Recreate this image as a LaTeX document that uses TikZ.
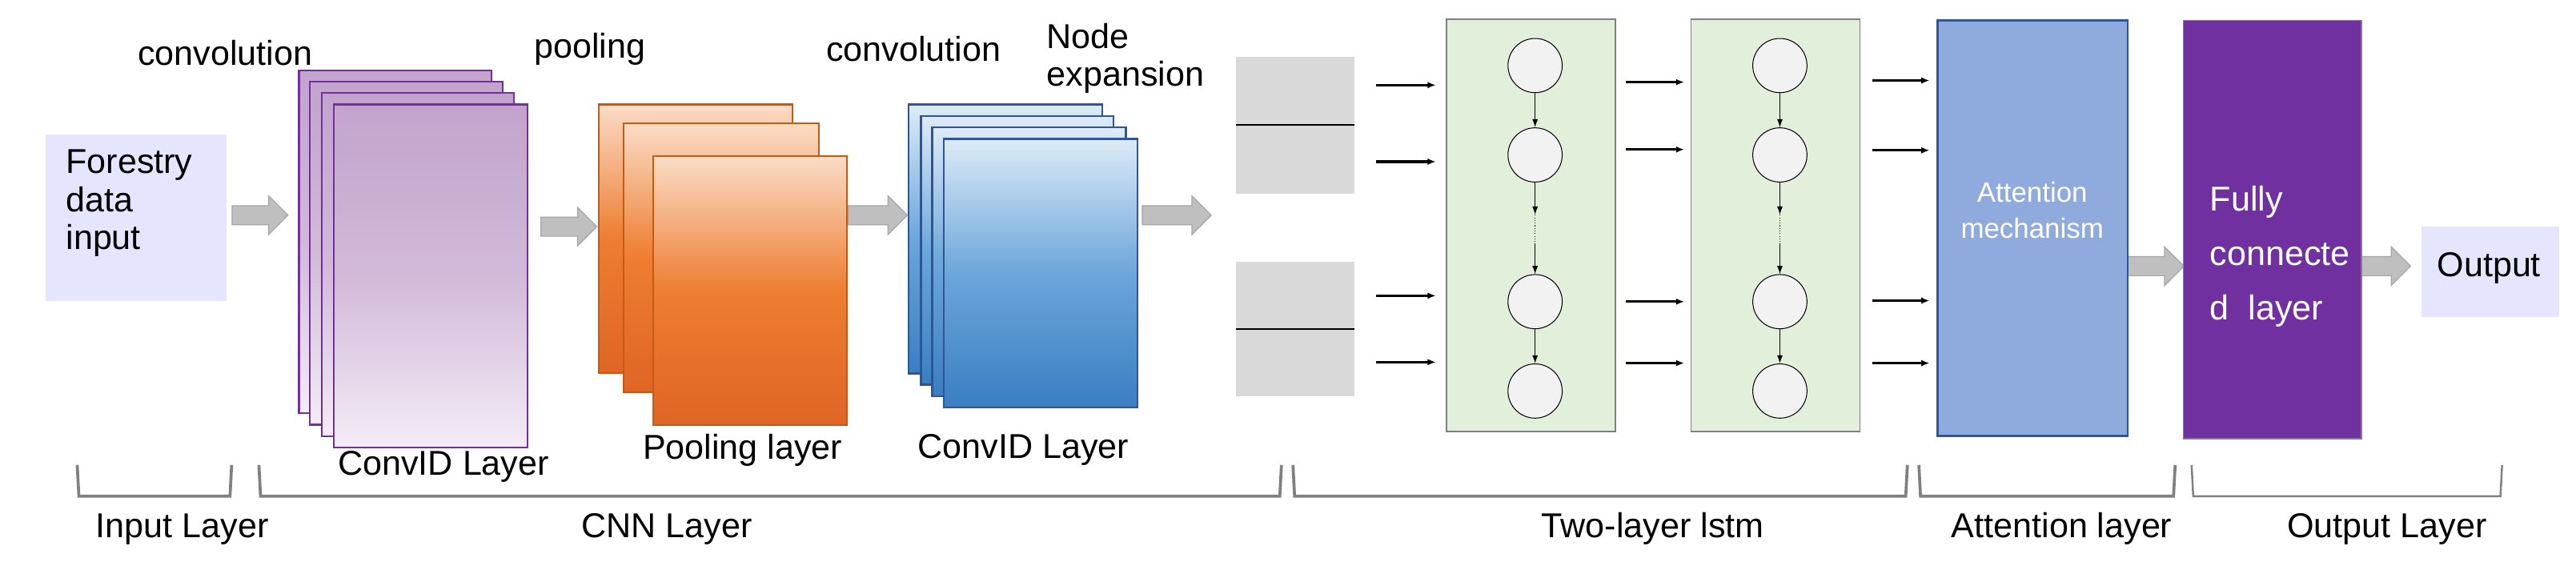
\documentclass[tikz,border=0pt]{standalone}
\usepackage{fontspec}
\setmainfont{Liberation Sans}
\usetikzlibrary{shapes.arrows,arrows.meta}
\definecolor{pu}{HTML}{7030A0}
\definecolor{puL}{HTML}{C3A3CC}
\definecolor{puW}{HTML}{F4ECF6}
\definecolor{orB}{HTML}{C55A11}
\definecolor{orT}{HTML}{FADCC6}
\definecolor{orM}{HTML}{EE7D31}
\definecolor{orD}{HTML}{DF6525}
\definecolor{blB}{HTML}{2F5597}
\definecolor{blT}{HTML}{DDEBF7}
\definecolor{blM}{HTML}{6CA6DA}
\definecolor{blD}{HTML}{3A7EC2}
\begin{document}
\begin{tikzpicture}[x=1pt,y=-1pt,
  txt/.style={font=\fontsize{21}{23}\selectfont,inner sep=0},
  blk/.style={single arrow,fill=gray!50,draw=gray!70,line width=0.6pt,minimum width=23pt,single arrow head extend=6pt,inner sep=0,text height=11pt,text depth=0pt,text width=0pt,anchor=west},
  purp/.style={draw=pu,line width=1pt,top color=puL,bottom color=puW,middle color=puL!70!puW},
  oran/.style={draw=orB,line width=1pt,top color=orT,bottom color=orD,middle color=orM},
  blue/.style={draw=blB,line width=1.2pt,top color=blT,bottom color=blD,middle color=blM},
  cell/.style={circle,draw=black,fill=black!5,line width=0.5pt,minimum size=33pt,inner sep=0},
  sa/.style={-{Latex[length=5pt,width=4pt]},line width=1.6pt},
  ca/.style={-{Latex[length=5pt,width=3.5pt]},line width=0.7pt},
  brk/.style={draw=gray,line width=1.8pt}]
\useasboundingbox (0,0) rectangle (1568,341.6);
% input
\node[fill=blue!10!white,minimum width=110pt,minimum height=101pt,inner sep=0] (in) at (83,132.5) {};
\node[txt,align=left,anchor=north west] (intx) at (40,91) {Forestry\\ data\\ input};
% conv stack 1
\draw[purp] (182,42.7) rectangle (299,251.6);
\draw[purp] (188.5,49.7) rectangle (306,258.5);
\draw[purp] (196,56.6) rectangle (313,265.5);
\draw[purp] (203,63.6) rectangle (321,272.5);
% pooling stack
\draw[oran] (364.5,63.6) rectangle (482.4,227.2);
\draw[oran] (379.4,75.1) rectangle (498.3,238.7);
\draw[oran] (397.8,95.2) rectangle (515.7,258.8);
% conv stack 2
\draw[blue] (553,63.6) rectangle (670.9,227.2);
\draw[blue] (560.5,70.6) rectangle (677.8,234.1);
\draw[blue] (567.4,77.5) rectangle (685.3,241.1);
\draw[blue] (574.4,84.5) rectangle (692.3,248.1);
% block arrows
\node[blk,minimum height=34pt] (b1) at (141,131) {};
\node[blk,minimum height=34pt] (b2) at (329,138) {};
\node[blk,minimum height=36pt] (b3) at (516,131) {};
\node[blk,minimum height=42pt] (b4) at (695,131) {};
\node[blk,minimum height=34pt] (b5) at (1295,162) {};
\node[blk,minimum height=30pt] (b6) at (1437,162) {};
% top labels
\node[txt] (l1) at (137,32) {convolution};
\node[txt] (l2) at (359,30) {pooling};
\node[txt] (l3) at (556,30) {convolution};
\node[txt,align=left,anchor=north west] (l4) at (637,14) {Node\\expansion};
\node[txt] (l5) at (270,284) {ConvID Layer};
\node[txt] (l6) at (452,274) {Pooling layer};
\node[txt] (l7) at (623,274) {ConvID Layer};
% gray expansion boxes
\node[fill=black!15,minimum width=72pt,minimum height=83pt,inner sep=0] (g1) at (788.4,76.2) {};
\node[fill=black!15,minimum width=72pt,minimum height=82pt,inner sep=0] (g2) at (788.4,200.1) {};
\draw[line width=1pt] (g1.west) -- (g1.east);
\draw[line width=1pt] (g2.west) -- (g2.east);
% lstm boxes
\node[fill=green!10!white!90!gray,fill=green!5!white,draw=gray,line width=0.8pt,minimum width=102pt,minimum height=250pt,inner sep=0] (L1) at (932,137.2) {};
\node[fill=green!5!white,draw=gray,line width=0.8pt,minimum width=102pt,minimum height=250pt,inner sep=0] (L2) at (1080.7,137.2) {};
\fill[green!5!white] (L1.north west) rectangle (L1.south east);
\fill[green!5!white] (L2.north west) rectangle (L2.south east);
\definecolor{lg}{HTML}{E2EFDA}
\draw[fill=lg,draw=gray,line width=0.8pt] (L1.north west) rectangle (L1.south east);
\draw[fill=lg,draw=gray,line width=0.8pt] (L2.north west) rectangle (L2.south east);
\foreach \c/\x in {a/934.4,b/1083.4}{
  \node[cell] (\c1) at (\x,39.9) {};
  \node[cell] (\c2) at (\x,94.3) {};
  \node[cell] (\c3) at (\x,183.6) {};
  \node[cell] (\c4) at (\x,238) {};
  \coordinate (\c m1) at (\x,130.7);
  \coordinate (\c m2) at (\x,148);
  \draw[ca] (\c1) -- (\c2);
  \draw[ca] (\c2) -- (\c m1);
  \draw[line width=0.6pt,densely dotted] (\c m1) -- (\c m2);
  \draw[ca] (\c m2) -- (\c3);
  \draw[ca] (\c3) -- (\c4);
}
% small arrows
\foreach \y [count=\i] in {51.8,98.4,180,220.4}{
  \coordinate (p\i) at (837.7,\y); \coordinate (q\i) at (874,\y);
  \draw[sa] (p\i) -- (q\i);}
\foreach \y [count=\i] in {50,91,183.6,221}{
  \coordinate (r\i) at (989.8,\y); \coordinate (s\i) at (1025.2,\y);
  \draw[sa] (r\i) -- (s\i);}
\foreach \y [count=\i] in {49,91.5,183,221}{
  \coordinate (t\i) at (1139.5,\y); \coordinate (u\i) at (1174.5,\y);
  \draw[sa] (t\i) -- (u\i);}
% attention
\definecolor{att}{HTML}{8FAADC}
\draw[fill=att,draw=blB,line width=1.2pt] (1179.4,12.4) rectangle (1295,265.3);
\node[txt,text=white,align=center,font=\fontsize{17}{22}\selectfont] (attx) at (1237,128) {Attention\\mechanism};
% fully connected
\draw[fill=pu,draw=gray,line width=0.8pt] (1329,12.4) rectangle (1437.3,267);
\node[txt,text=white,align=left,anchor=west,font=\fontsize{21}{33}\selectfont] (fc) at (1345,156) {Fully\\connecte\\d\ \ layer};
% output
\node[fill=blue!10!white,minimum width=84pt,minimum height=55pt,inner sep=0] (out) at (1515.8,165.3) {};
\node[txt] (outx) at (1515,163) {Output};
% brackets
\draw[brk] (47,283) -- (48,302) -- (140,302) -- (141,283);
\draw[brk] (157.6,283) -- (158.6,302) -- (779,302) -- (780,283);
\draw[brk] (787,283) -- (788,302) -- (1160,302) -- (1161,283);
\draw[brk] (1168,283) -- (1169,302) -- (1323,302) -- (1324,283);
\draw[brk,line width=1.2pt] (1334,283) -- (1335,302) -- (1522,302) -- (1523,283);
\node[txt] (bl1) at (111,322) {Input Layer};
\node[txt] (bl2) at (406,322) {CNN Layer};
\node[txt] (bl3) at (1006,322) {Two-layer lstm};
\node[txt] (bl4) at (1255,322) {Attention layer};
\node[txt] (bl5) at (1453,322) {Output Layer};
\end{tikzpicture}
\end{document}
